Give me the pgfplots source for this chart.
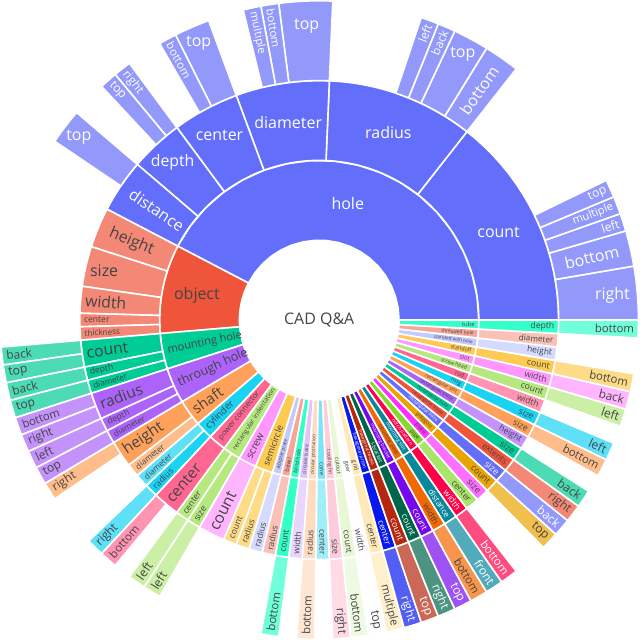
\documentclass[border=0pt]{standalone}
\usepackage{fontspec}
\setmainfont{Open Sans}
\usepackage{pgfplots}
\pgfplotsset{compat=1.18}

\definecolor{c1}{HTML}{636EFA}\definecolor{c2}{HTML}{EF553B}\definecolor{c3}{HTML}{00CC96}
\definecolor{c4}{HTML}{AB63FA}\definecolor{c5}{HTML}{FFA15A}\definecolor{c6}{HTML}{19D3F3}
\definecolor{c7}{HTML}{FF6692}\definecolor{c8}{HTML}{B6E880}\definecolor{c9}{HTML}{FF97FF}
\definecolor{c10}{HTML}{FECB52}
\definecolor{l1}{HTML}{C5CAFD}\definecolor{l2}{HTML}{F7A799}\definecolor{l3}{HTML}{33FFC9}
\definecolor{l4}{HTML}{E0C5FD}\definecolor{l5}{HTML}{FFDBC0}\definecolor{l6}{HTML}{7AE5F8}
\definecolor{l7}{HTML}{FFCCDB}\definecolor{l8}{HTML}{E8F8D6}\definecolor{l9}{HTML}{FFFDFF}
\definecolor{l10}{HTML}{FFE9B8}
\definecolor{d1}{HTML}{0819EF}\definecolor{d2}{HTML}{B5270F}\definecolor{d3}{HTML}{00664B}
\definecolor{d4}{HTML}{7608EF}\definecolor{d5}{HTML}{F36800}\definecolor{d6}{HTML}{08879D}
\definecolor{d7}{HTML}{FF0049}\definecolor{d8}{HTML}{85D929}\definecolor{d9}{HTML}{FF31FF}
\definecolor{d10}{HTML}{E9A401}
\definecolor{tdark}{HTML}{444444}

\newdimen\wlw
\newbox\wbox
% #1 start (cumulative count), #2 end, #3 ring (0,1,2), #4 fill, #5 text colour, #6 orientation (0 auto, 1 horizontal), #7 label
\newcommand{\sect}[7]{%
  \pgfmathsetmacro\wA{#1*3.2432432}%
  \pgfmathsetmacro\wB{#2*3.2432432}%
  \pgfmathsetmacro\wrA{80+80*#3}%
  \pgfmathsetmacro\wrB{160+80*#3}%
  \edef\wdo{\noexpand\addplot[fill=#4, draw=white, line width=1.2pt, line join=round, domain=0:1, samples=41, variable=\noexpand\t]
    ({(\noexpand\t<0.5 ? \wrB : \wrA)*cos(\noexpand\t<0.5 ? \wA+(\wB-\wA)*min(1,\noexpand\t/0.45) : \wB-(\wB-\wA)*min(1,max(0,(\noexpand\t-0.55)/0.45)))},
     {(\noexpand\t<0.5 ? \wrB : \wrA)*sin(\noexpand\t<0.5 ? \wA+(\wB-\wA)*min(1,\noexpand\t/0.45) : \wB-(\wB-\wA)*min(1,max(0,(\noexpand\t-0.55)/0.45)))}) -- cycle;}%
  \wdo
  \pgfinterruptpicture
    \setbox\wbox=\hbox{\normalfont\fontsize{10}{12}\selectfont #7}%
    \global\wlw=\wd\wbox
  \endpgfinterruptpicture
  \ifdim\wlw<1pt \global\wlw=30pt \fi
  \pgfmathsetmacro\wW{1.6*\wlw}%
  \def\wH{21.8}%
  \pgfmathsetmacro\wh{(\wB-\wA)/2}%
  \pgfmathsetmacro\wtm{(\wA+\wB)/2}%
  \pgfmathsetmacro\wring{1-\wrA/\wrB}%
  \pgfmathsetmacro\wrr{\wrB-8}%
  \pgfmathsetmacro\wrIns{max(0,min(1/(1+1/sin(\wh)),\wring/2))}%
  \pgfmathsetmacro\wsH{\wrIns*\wrB*2/veclen(\wW,\wH)}%
  \pgfmathsetmacro\wa{\wW/\wH}%
  \pgfmathsetmacro\wq{\wa+1/(2*tan(\wh))}%
  \pgfmathsetmacro\wsr{\wrr*min(1/(veclen(\wq,0.70711)+\wq),\wring/(sqrt(\wa*\wa+\wring/2)+\wa))}%
  \pgfmathsetmacro\wsR{2*\wsr/\wH}%
  \pgfmathsetmacro\wcR{cos(deg(\wsr/\wrr))-\wa*\wsr/\wrr}%
  \pgfmathsetmacro\wat{\wH/\wW}%
  \pgfmathsetmacro\wqt{\wat+1/(2*tan(\wh))}%
  \pgfmathsetmacro\wst{\wrr*min(1/(veclen(\wqt,0.70711)+\wqt),\wring/(sqrt(\wat*\wat+\wring/2)+\wat))}%
  \pgfmathsetmacro\wsT{2*\wst/\wW}%
  \pgfmathsetmacro\wcT{cos(deg(\wst/\wrr))-\wat*\wst/\wrr}%
  \pgfmathtruncatemacro\wmode{#6==0 ? (\wsH>=1 ? 1 : (\wsH>=max(\wsR,\wsT) ? 1 : (\wsR>=\wsT ? 2 : 3))) : #6}%
  \ifcase\wmode\relax
  \or
    \pgfmathsetmacro\wsc{min(1,\wsH)}%
    \pgfmathsetmacro\wrc{(1-\wrIns)*\wrB}%
    \def\wrot{0}%
  \or
    \pgfmathsetmacro\wsc{min(1,\wsR)}%
    \pgfmathsetmacro\wrc{\wcR*(\wrB-4)}%
    \pgfmathsetmacro\wrot{\wtm>270 ? \wtm-360 : (\wtm>90 ? \wtm-180 : \wtm)}%
  \or
    \pgfmathsetmacro\wsc{min(1,\wsT)}%
    \pgfmathsetmacro\wrc{\wcT*(\wrB-4)}%
    \pgfmathsetmacro\wtt{mod(\wtm+90,360)}%
    \pgfmathsetmacro\wrot{\wtt>270 ? \wtt-360 : (\wtt>90 ? \wtt-180 : \wtt)}%
  \fi
  \pgfmathsetmacro\wfpt{12*\wsc}%
  \pgfmathsetmacro\wlx{\wrc*cos(\wtm)}%
  \pgfmathsetmacro\wly{\wrc*sin(\wtm)}%
  \edef\wdo{\noexpand\node[text=#5, rotate=\wrot, inner sep=0pt, font=\noexpand\fontsize{\wfpt}{\wfpt}\noexpand\selectfont] at (axis cs:\wlx,\wly) {\unexpanded{#7}};}%
  \wdo
}

\begin{document}
\begin{tikzpicture}
\begin{axis}[x=0.75pt, y=0.75pt, xmin=-320, xmax=320, ymin=-320, ymax=320,
  hide axis, clip=false, enlargelimits=false]
\addplot[draw=none, forget plot] coordinates {(-320,-320) (320,320)};
% ---------- ring 1 ----------
\sect{0}{47}{0}{c1}{white}{0}{hole}
\sect{47}{57}{0}{c2}{tdark}{0}{object}
\sect{57}{61}{0}{c3}{tdark}{0}{mounting hole}
\sect{61}{65}{0}{c4}{tdark}{0}{through hole}
\sect{65}{68}{0}{c5}{tdark}{0}{shaft}
\sect{68}{70}{0}{c6}{tdark}{0}{cylinder}
\sect{70}{72}{0}{c7}{tdark}{0}{power connector}
\sect{72}{74}{0}{c8}{tdark}{0}{rectangular indentation}
\sect{74}{76}{0}{c9}{tdark}{0}{screw}
\sect{76}{78}{0}{c10}{tdark}{0}{semicircle}
\sect{78}{79}{0}{l1}{tdark}{0}{adapter plate}
\sect{79}{80}{0}{l2}{tdark}{0}{bevel}
\sect{80}{81}{0}{l3}{tdark}{0}{blind hole}
\sect{81}{82}{0}{l4}{tdark}{0}{circular base}
\sect{82}{83}{0}{l5}{tdark}{0}{circular protrusion}
\sect{83}{84}{0}{l6}{tdark}{0}{cone}
\sect{84}{85}{0}{l7}{tdark}{0}{cooling fin}
\sect{85}{86}{0}{l8}{tdark}{0}{cutout}
\sect{86}{87}{0}{l9}{tdark}{0}{gear}
\sect{87}{88}{0}{l10}{tdark}{0}{grid}
\sect{88}{89}{0}{d1}{white}{0}{hexagonal prism}
\sect{89}{90}{0}{d2}{white}{0}{hexagonal recess}
\sect{90}{91}{0}{d3}{white}{0}{l-bracket}
\sect{91}{92}{0}{d4}{white}{0}{mounting bracket}
\sect{92}{93}{0}{d5}{tdark}{0}{mounting plate}
\sect{93}{94}{0}{d6}{white}{0}{mounting slot}
\sect{94}{95}{0}{d7}{white}{0}{notch pattern}
\sect{95}{96}{0}{d8}{tdark}{0}{pipe}
\sect{96}{97}{0}{d9}{tdark}{0}{plate}
\sect{97}{98}{0}{d10}{tdark}{0}{polygon}
\sect{98}{99}{0}{c1}{white}{0}{rectangular base}
\sect{99}{100}{0}{c2}{tdark}{0}{rectangular block}
\sect{100}{101}{0}{c3}{tdark}{0}{rectangular hole}
\sect{101}{102}{0}{c4}{tdark}{0}{rectangular plate}
\sect{102}{103}{0}{c5}{tdark}{0}{rectangular slot}
\sect{103}{104}{0}{c6}{tdark}{0}{ring}
\sect{104}{105}{0}{c7}{tdark}{0}{rod}
\sect{105}{106}{0}{c8}{tdark}{0}{screw head}
\sect{106}{107}{0}{c9}{tdark}{0}{slot}
\sect{107}{108}{0}{c10}{tdark}{0}{standoff}
\sect{108}{109}{0}{l1}{tdark}{0}{standoff with hole}
\sect{109}{110}{0}{l2}{tdark}{0}{threaded hole}
\sect{110}{111}{0}{l3}{tdark}{0}{tube}
% ---------- hole ----------
\sect{0}{16}{1}{c1}{white}{0}{count}
\sect{16}{27}{1}{c1}{white}{0}{radius}
\sect{27}{34}{1}{c1}{white}{0}{diameter}
\sect{34}{39}{1}{c1}{white}{0}{center}
\sect{39}{43}{1}{c1}{white}{1}{depth}
\sect{43}{47}{1}{c1}{white}{0}{distance}
\sect{0}{3}{2}{c1!70!white}{white}{0}{right}
\sect{3}{5}{2}{c1!70!white}{white}{0}{bottom}
\sect{5}{6}{2}{c1!70!white}{white}{0}{left}
\sect{6}{7}{2}{c1!70!white}{white}{0}{multiple}
\sect{7}{8}{2}{c1!70!white}{white}{0}{top}
\sect{16}{18}{2}{c1!70!white}{white}{0}{bottom}
\sect{18}{20}{2}{c1!70!white}{white}{0}{top}
\sect{20}{21}{2}{c1!70!white}{white}{0}{back}
\sect{21}{22}{2}{c1!70!white}{white}{0}{left}
\sect{27}{30}{2}{c1!70!white}{white}{0}{top}
\sect{30}{31}{2}{c1!70!white}{white}{0}{bottom}
\sect{31}{32}{2}{c1!70!white}{white}{0}{multiple}
\sect{34}{36}{2}{c1!70!white}{white}{0}{top}
\sect{36}{37}{2}{c1!70!white}{white}{0}{bottom}
\sect{39}{40}{2}{c1!70!white}{white}{0}{right}
\sect{40}{41}{2}{c1!70!white}{white}{0}{top}
\sect{43}{45}{2}{c1!70!white}{white}{0}{top}
% ---------- object ----------
\sect{47}{50}{1}{c2!70!white}{tdark}{0}{height}
\sect{50}{53}{1}{c2!70!white}{tdark}{0}{size}
\sect{53}{55}{1}{c2!70!white}{tdark}{0}{width}
\sect{55}{56}{1}{c2!70!white}{tdark}{0}{center}
\sect{56}{57}{1}{c2!70!white}{tdark}{0}{thickness}
% ---------- mounting hole ----------
\sect{57}{59}{1}{c3}{tdark}{0}{count}
\sect{59}{60}{1}{c3}{tdark}{0}{depth}
\sect{60}{61}{1}{c3}{tdark}{0}{diameter}
\sect{57}{58}{2}{c3!70!white}{tdark}{0}{back}
\sect{58}{59}{2}{c3!70!white}{tdark}{0}{top}
\sect{59}{60}{2}{c3!70!white}{tdark}{0}{back}
\sect{60}{61}{2}{c3!70!white}{tdark}{0}{top}
% ---------- through hole ----------
\sect{61}{63}{1}{c4}{tdark}{0}{radius}
\sect{63}{64}{1}{c4}{tdark}{0}{depth}
\sect{64}{65}{1}{c4}{tdark}{0}{diameter}
\sect{61}{62}{2}{c4!70!white}{tdark}{0}{bottom}
\sect{62}{63}{2}{c4!70!white}{tdark}{0}{right}
\sect{63}{64}{2}{c4!70!white}{tdark}{0}{left}
\sect{64}{65}{2}{c4!70!white}{tdark}{0}{top}
% ---------- shaft ----------
\sect{65}{67}{1}{c5}{tdark}{0}{height}
\sect{67}{68}{1}{c5!70!white}{tdark}{0}{diameter}
\sect{65}{66}{2}{c5!70!white}{tdark}{0}{right}
% ---------- cylinder ----------
\sect{68}{69}{1}{c6!70!white}{tdark}{0}{diameter}
\sect{69}{70}{1}{c6}{tdark}{0}{radius}
\sect{69}{70}{2}{c6!70!white}{tdark}{0}{right}
% ---------- power connector ----------
\sect{70}{72}{1}{c7}{tdark}{0}{center}
\sect{70}{71}{2}{c7!70!white}{tdark}{0}{bottom}
% ---------- rectangular indentation ----------
\sect{72}{73}{1}{c8}{tdark}{0}{center}
\sect{73}{74}{1}{c8}{tdark}{0}{size}
\sect{72}{73}{2}{c8!70!white}{tdark}{0}{left}
\sect{73}{74}{2}{c8!70!white}{tdark}{0}{left}
% ---------- screw, semicircle ----------
\sect{74}{76}{1}{c9!70!white}{tdark}{0}{count}
\sect{76}{77}{1}{c10!70!white}{tdark}{0}{count}
\sect{77}{78}{1}{c10!70!white}{tdark}{0}{radius}
% ---------- single-question parts ----------
\sect{78}{79}{1}{l1!70!white}{tdark}{0}{radius}
\sect{79}{80}{1}{l2!70!white}{tdark}{0}{radius}
\sect{80}{81}{1}{l3}{tdark}{0}{count}
\sect{80}{81}{2}{l3!70!white}{tdark}{0}{bottom}
\sect{81}{82}{1}{l4!70!white}{tdark}{0}{width}
\sect{82}{83}{1}{l5}{tdark}{0}{radius}
\sect{82}{83}{2}{l5!70!white}{tdark}{0}{bottom}
\sect{83}{84}{1}{l6!70!white}{tdark}{0}{center}
\sect{84}{85}{1}{l7}{tdark}{0}{size}
\sect{84}{85}{2}{l7!70!white}{tdark}{0}{right}
\sect{85}{86}{1}{l8}{tdark}{0}{count}
\sect{85}{86}{2}{l8!70!white}{tdark}{0}{bottom}
\sect{86}{87}{1}{l9}{tdark}{0}{width}
\sect{86}{87}{2}{l9!70!white}{tdark}{0}{top}
\sect{87}{88}{1}{l10}{tdark}{0}{center}
\sect{87}{88}{2}{l10!70!white}{tdark}{0}{multiple}
\sect{88}{89}{1}{d1}{white}{0}{center}
\sect{88}{89}{2}{d1!70!white}{white}{0}{right}
\sect{89}{90}{1}{d2}{white}{0}{count}
\sect{89}{90}{2}{d2!70!white}{white}{0}{top}
\sect{90}{91}{1}{d3}{white}{0}{count}
\sect{90}{91}{2}{d3!70!white}{white}{0}{right}
\sect{91}{92}{1}{d4}{white}{0}{count}
\sect{91}{92}{2}{d4!70!white}{white}{0}{top}
\sect{92}{93}{1}{d5}{tdark}{0}{width}
\sect{92}{93}{2}{d5!70!white}{tdark}{0}{bottom}
\sect{93}{94}{1}{d6}{white}{0}{distance}
\sect{93}{94}{2}{d6!70!white}{white}{0}{front}
\sect{94}{95}{1}{d7}{white}{0}{width}
\sect{94}{95}{2}{d7!70!white}{white}{0}{bottom}
\sect{95}{96}{1}{d8!70!white}{tdark}{0}{center}
\sect{96}{97}{1}{d9!70!white}{tdark}{0}{size}
\sect{97}{98}{1}{d10}{tdark}{0}{count}
\sect{97}{98}{2}{d10!70!white}{tdark}{0}{top}
\sect{98}{99}{1}{c1}{white}{0}{size}
\sect{98}{99}{2}{c1!70!white}{white}{0}{back}
\sect{99}{100}{1}{c2}{tdark}{0}{extents}
\sect{99}{100}{2}{c2!70!white}{tdark}{0}{right}
\sect{100}{101}{1}{c3}{tdark}{0}{size}
\sect{100}{101}{2}{c3!70!white}{tdark}{0}{back}
\sect{101}{102}{1}{c4!70!white}{tdark}{0}{height}
\sect{102}{103}{1}{c5}{tdark}{0}{size}
\sect{102}{103}{2}{c5!70!white}{tdark}{0}{bottom}
\sect{103}{104}{1}{c6}{tdark}{0}{size}
\sect{103}{104}{2}{c6!70!white}{tdark}{0}{left}
\sect{104}{105}{1}{c7!70!white}{tdark}{0}{width}
\sect{105}{106}{1}{c8}{tdark}{0}{count}
\sect{105}{106}{2}{c8!70!white}{tdark}{0}{left}
\sect{106}{107}{1}{c9}{tdark}{0}{width}
\sect{106}{107}{2}{c9!70!white}{tdark}{0}{back}
\sect{107}{108}{1}{c10}{tdark}{0}{count}
\sect{107}{108}{2}{c10!70!white}{tdark}{0}{bottom}
\sect{108}{109}{1}{l1!70!white}{tdark}{0}{height}
\sect{109}{110}{1}{l2!70!white}{tdark}{0}{diameter}
\sect{110}{111}{1}{l3}{tdark}{0}{depth}
\sect{110}{111}{2}{l3!70!white}{tdark}{0}{bottom}
% ---------- root ----------
\node[text=tdark, inner sep=0pt, font=\fontsize{12}{12}\selectfont] at (axis cs:0,0) {CAD Q\&A};
\end{axis}
\end{tikzpicture}
\end{document}
